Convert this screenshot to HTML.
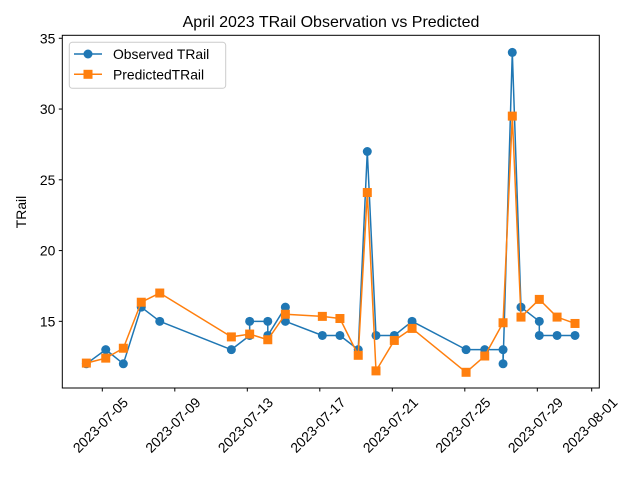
<!DOCTYPE html>
<html><head><meta charset="utf-8"><style>
body{margin:0;background:#fff}
svg{display:block;font-family:"Liberation Sans","DejaVu Sans",sans-serif}
</style></head><body>
<svg id="chart" width="640" height="480" xmlns="http://www.w3.org/2000/svg">
<rect width="640" height="480" fill="#fff"/>
<text x="331" y="27" font-size="16" text-anchor="middle">April 2023 TRail Observation vs Predicted</text>
<text transform="translate(26,212) rotate(-90)" font-size="13.9" text-anchor="middle">TRail</text>
<g id="grid"></g>
<g id="series"></g>
<rect x="62.3" y="35.3" width="537" height="352.7" fill="none" stroke="#000" stroke-width="1"/>
<g id="axes"></g>
<g>
<rect x="69.3" y="42.3" width="156.4" height="46" rx="3" fill="#fff" fill-opacity="0.8" stroke="#ccc"/>
<line x1="74" y1="54" x2="102" y2="54" stroke="#1f77b4" stroke-width="1.5"/>
<circle cx="88" cy="54" r="4.5" fill="#1f77b4"/>
<text x="113" y="59" font-size="13.9">Observed TRail</text>
<line x1="74" y1="74.3" x2="102" y2="74.3" stroke="#ff7f0e" stroke-width="1.5"/>
<rect x="83.5" y="69.8" width="9" height="9" fill="#ff7f0e"/>
<text x="113" y="79.3" font-size="13.9">PredictedTRail</text>
</g>
</svg>
<script>
// day-of-July values (fractional days)
const obsDays = [4.12,5.19,6.16,7.15,8.17,12.12,13.13,13.13,14.13,14.13,15.10,15.10,17.14,18.11,19.12,19.62,20.10,21.11,22.09,25.07,26.10,27.11,27.11,27.62,28.10,29.11,29.11,30.09,31.08];
const obsVals = [12,13,12,16,15,13,14,15,15,14,16,15,14,14,13,27,14,14,15,13,13,13,12,34,16,15,14,14,14];
const predDays = [4.12,5.19,6.16,7.15,8.17,12.12,13.13,14.13,15.10,17.14,18.11,19.12,19.62,20.10,21.11,22.09,25.07,26.10,27.11,27.62,28.10,29.11,30.09,31.08];
const predVals = [12.05,12.4,13.1,16.35,17.0,13.9,14.1,13.7,15.5,15.35,15.2,12.6,24.1,11.5,13.65,14.5,11.4,12.55,14.9,29.5,15.3,16.55,15.3,14.85];
const yTicks = [15,20,25,30,35];
const xTickDays = [5,9,13,17,21,25,29,32];
const xTickLabels = ["2023-07-05","2023-07-09","2023-07-13","2023-07-17","2023-07-21","2023-07-25","2023-07-29","2023-08-01"];

const NS="http://www.w3.org/2000/svg";
const X0=62.3,X1=599.3,Y0=35.3,Y1=388;
const dMin=2.793,dMax=32.42,vMin=10.29,vMax=35.21;
function xs(d){return X0+(d-dMin)/(dMax-dMin)*(X1-X0);}
function ys(v){return Y1-(v-vMin)/(vMax-vMin)*(Y1-Y0);}
function mk(tag,attrs,parent){const e=document.createElementNS(NS,tag);for(const k in attrs)e.setAttribute(k,attrs[k]);parent.appendChild(e);return e;}
const axes=document.getElementById('axes'),ser=document.getElementById('series');
yTicks.forEach(v=>{
  const y=ys(v);
  const t=mk('line',{x1:X0-3.5,x2:X0,y1:y,y2:y,stroke:'#000'},axes);
  
  
  const l=mk('text',{x:X0-7,y:y+5,'font-size':13.9,'text-anchor':'end'},axes);
  
  
  l.textContent=v;
});
xTickDays.forEach((d,i)=>{
  const x=xs(d);
  const t=mk('line',{x1:x,x2:x,y1:Y1,y2:Y1+3.5,stroke:'#000'},axes);
  
  
  const l=mk('text',{x:0,y:0,'font-size':13.9,'text-anchor':'middle',transform:`translate(${x-2},${Y1+37}) rotate(-45)`,dy:'5'},axes);
  
  
  l.textContent=xTickLabels[i];
});
function draw(days,vals,color,marker,name){
  const g=mk('g',{},ser);
  
  
  mk('polyline',{points:days.map((d,i)=>xs(d)+','+ys(vals[i])).join(' '),fill:'none',stroke:color,'stroke-width':1.5,'stroke-linejoin':'round'},g);
  days.forEach((d,i)=>{
    let m;
    if(marker==='c') m=mk('circle',{cx:xs(d),cy:ys(vals[i]),r:4.5,fill:color},g);
    else m=mk('rect',{x:xs(d)-4.5,y:ys(vals[i])-4.5,width:9,height:9,fill:color},g);
    
    
  });
}
draw(obsDays,obsVals,'#1f77b4','c','observed-series');
draw(predDays,predVals,'#ff7f0e','s','predicted-series');
</script>
</body></html>
